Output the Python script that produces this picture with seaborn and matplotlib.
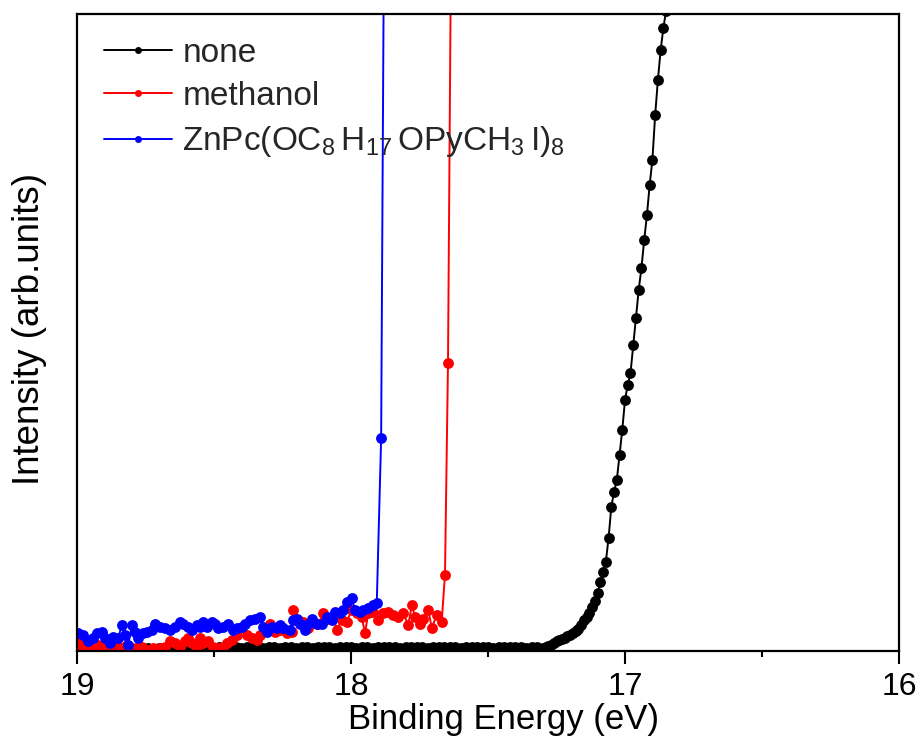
import numpy as np
import pandas as pd
import matplotlib
matplotlib.use("Agg")
import matplotlib.pyplot as plt
from matplotlib.lines import Line2D
from matplotlib.ticker import MultipleLocator
import seaborn as sns

# ---------------- data ----------------
series_names = ["none", "methanol", r"ZnPc(OC$_{8}\,$H$_{17}\,$OPyCH$_{3}\,$I)$_{8}$"]
series_colors = ["#000000", "#FF0000", "#0000FF"]

none_E = [19.00, 18.98, 18.96, 18.94, 18.92, 18.90, 18.88, 18.86, 18.84, 18.82,
          18.80, 18.78, 18.76, 18.74, 18.72, 18.70, 18.68, 18.66, 18.64, 18.62,
          18.60, 18.58, 18.56, 18.54, 18.52, 18.50, 18.48, 18.46, 18.44, 18.42,
          18.40, 18.38, 18.36, 18.34, 18.32, 18.30, 18.28, 18.26, 18.24, 18.22,
          18.20, 18.18, 18.16, 18.14, 18.12, 18.10, 18.08, 18.06, 18.04, 18.02,
          18.00, 17.98, 17.96, 17.94, 17.92, 17.90, 17.88, 17.86, 17.84, 17.82,
          17.80, 17.78, 17.76, 17.74, 17.72, 17.70, 17.68, 17.66, 17.64, 17.62,
          17.60, 17.58, 17.56, 17.54, 17.52, 17.50, 17.48, 17.46, 17.44, 17.42,
          17.40, 17.38, 17.36, 17.34, 17.32, 17.30, 17.29, 17.28, 17.27, 17.26,
          17.25, 17.24, 17.23, 17.22, 17.21, 17.20, 17.19, 17.18, 17.17, 17.16,
          17.15, 17.14, 17.13, 17.12, 17.11, 17.10, 17.09, 17.08, 17.07, 17.06,
          17.05, 17.04, 17.03, 17.02, 17.01, 17.00, 16.99, 16.98, 16.97, 16.96,
          16.95, 16.94, 16.93, 16.92, 16.91, 16.90, 16.89, 16.88, 16.87, 16.86,
          16.85]
none_I = [0.4, 0.3, 0.4, 0.5, 0.3, 0.4, 0.4, 0.3, 0.5, 0.4,
          0.3, 0.4, 0.4, 0.5, 0.3, 0.4, 0.4, 0.3, 0.4, 0.5,
          0.4, 0.4, 0.3, 0.4, 0.5, 0.5, 0.6, 0.5, 0.5, 0.6,
          0.5, 0.7, 0.5, 0.6, 0.5, 0.6, 0.6, 0.5, 0.7, 0.6,
          0.5, 0.6, 0.6, 0.5, 0.6, 0.7, 0.6, 0.5, 0.6, 0.6,
          0.7, 0.5, 0.6, 0.6, 0.5, 0.6, 0.7, 0.6, 0.6, 0.5,
          0.6, 0.6, 0.7, 0.6, 0.5, 0.6, 0.6, 0.7, 0.6, 0.6,
          0.5, 0.6, 0.7, 0.6, 0.6, 0.6, 0.5, 0.6, 0.7, 0.6,
          0.6, 0.6, 0.5, 0.6, 0.6, 0.5, 0.6, 0.8, 1.0, 1.2,
          1.5, 1.7, 1.9, 2.1, 2.3, 2.5, 2.8, 3.1, 3.5, 4.1,
          4.8, 5.4, 6.0, 6.9, 7.9, 9.1, 10.8, 12.4, 14.0, 17.7,
          22.6, 25.0, 26.8, 30.8, 34.7, 39.4, 41.8, 43.6, 48.0, 52.3,
          56.7, 60.1, 64.5, 68.4, 73.2, 77.1, 84.1, 89.6, 94.3, 97.8,
          100.5]

methanol_E = [18.999, 18.989, 18.971, 18.953, 18.934, 18.922, 18.910, 18.892, 18.873, 18.861,
              18.849, 18.831, 18.819, 18.800, 18.782, 18.764, 18.746, 18.722, 18.697, 18.679,
              18.661, 18.642, 18.624, 18.606, 18.594, 18.581, 18.563, 18.551, 18.539, 18.521,
              18.503, 18.484, 18.466, 18.454, 18.435, 18.417, 18.399, 18.381, 18.362, 18.344,
              18.332, 18.314, 18.296, 18.277, 18.259, 18.235, 18.216, 18.211, 18.192, 18.174,
              18.156, 18.138, 18.119, 18.101, 18.083, 18.065, 18.052, 18.034, 18.016, 17.997,
              17.979, 17.961, 17.949, 17.937, 17.919, 17.900, 17.882, 17.864, 17.846, 17.827,
              17.809, 17.791, 17.778, 17.766, 17.748, 17.736, 17.718, 17.705, 17.687, 17.669,
              17.657, 17.646, 17.630]
methanol_I = [0.9, 1.5, 0.7, 0.4, 0.7, 0.9, 0.4, 0.9, 0.2, 1.2,
              0.7, 0.4, 0.9, 0.4, 0.4, 0.7, 0.2, 0.4, 0.4, 0.7,
              1.5, 1.2, 0.7, 1.5, 2.0, 1.2, 0.4, 2.0, 1.2, 1.5,
              0.7, 0.4, 0.7, 1.2, 1.7, 2.5, 3.8, 2.5, 2.0, 1.7,
              2.5, 3.3, 4.3, 3.0, 3.3, 2.8, 3.0, 6.4, 4.9, 4.6,
              3.6, 4.6, 4.3, 5.9, 5.1, 5.4, 3.3, 4.9, 4.6, 6.4,
              5.9, 5.4, 2.8, 5.9, 6.2, 4.9, 5.9, 6.2, 5.7, 5.4,
              5.9, 4.1, 7.2, 5.4, 4.3, 5.1, 6.4, 3.6, 5.7, 4.6,
              12.0, 45.2, 140.0]

znpc_E = [18.995, 18.977, 18.959, 18.941, 18.928, 18.910, 18.898, 18.880, 18.868, 18.849,
          18.837, 18.825, 18.813, 18.800, 18.788, 18.776, 18.758, 18.746, 18.727, 18.715,
          18.697, 18.679, 18.661, 18.642, 18.624, 18.612, 18.594, 18.581, 18.563, 18.551,
          18.539, 18.527, 18.508, 18.496, 18.484, 18.466, 18.448, 18.430, 18.417, 18.399,
          18.387, 18.369, 18.350, 18.332, 18.320, 18.308, 18.289, 18.271, 18.259, 18.247,
          18.223, 18.211, 18.198, 18.186, 18.168, 18.156, 18.144, 18.125, 18.107, 18.089,
          18.070, 18.058, 18.040, 18.028, 18.016, 17.997, 17.985, 17.967, 17.955, 17.937,
          17.919, 17.906, 17.890, 17.878]
znpc_I = [2.8, 2.5, 1.5, 2.0, 2.8, 3.0, 2.0, 1.2, 2.2, 2.0,
          4.1, 2.5, 0.9, 4.1, 3.0, 2.0, 2.8, 3.0, 3.3, 4.3,
          3.8, 3.6, 3.3, 3.8, 4.6, 4.3, 3.8, 3.3, 4.1, 3.8,
          4.6, 3.8, 4.6, 4.3, 3.6, 3.8, 4.3, 3.3, 3.6, 3.8,
          4.3, 4.9, 5.1, 5.4, 3.8, 3.0, 3.8, 3.6, 4.1, 3.6,
          3.3, 4.9, 5.1, 4.3, 3.3, 4.3, 5.1, 4.3, 4.3, 5.4,
          4.9, 6.2, 5.9, 6.4, 7.7, 8.3, 6.4, 6.2, 6.4, 6.7,
          7.2, 7.5, 33.4, 125.0]

x_ticks = [19, 18, 17, 16]

# ---------------- style ----------------
sns.set_style("ticks")
plt.rcParams["font.family"] = ["Liberation Sans", "DejaVu Sans"]
plt.rcParams["mathtext.default"] = "regular"

fig = plt.figure(figsize=(9.24, 7.51), dpi=100)
ax = fig.add_axes([77 / 924, 100 / 751, 822 / 924, 637 / 751])

frames = [
    pd.DataFrame({"E": none_E, "I": none_I, "sample": series_names[0]}),
    pd.DataFrame({"E": methanol_E, "I": methanol_I, "sample": series_names[1]}),
    pd.DataFrame({"E": znpc_E, "I": znpc_I, "sample": series_names[2]}),
]

for df, col in zip(frames, series_colors):
    sns.lineplot(data=df, x="E", y="I", ax=ax, color=col, marker="o",
                 markersize=7.8, markeredgewidth=0, linewidth=1.4,
                 sort=False, estimator=None, legend=False)

ax.set_xlim(19, 16)
ax.set_ylim(0, 100)
ax.set_yticks([])
ax.set_xticks(x_ticks)
ax.set_xticklabels([str(t) for t in x_ticks])
ax.xaxis.set_minor_locator(MultipleLocator(0.5))
ax.tick_params(axis="x", which="major", direction="out", length=9, width=1.5,
               labelsize=23, pad=6, color="black", labelcolor="black")
ax.tick_params(axis="x", which="minor", direction="out", length=4.5, width=1.5,
               color="black")
for sp in ax.spines.values():
    sp.set_visible(True)
    sp.set_linewidth(1.6)
    sp.set_color("black")

ax.set_xlabel("Binding Energy (eV)", fontsize=25, color="black")
ax.set_ylabel("Intensity (arb.units)", fontsize=26.5, color="black")
ax.xaxis.set_label_coords(0.519, -0.082)
ax.yaxis.set_label_coords(-0.036, 0.506)

handles = [Line2D([], [], color=c, marker="o", markersize=5,
                  markeredgewidth=0, linewidth=1.4) for c in series_colors]
ax.legend(handles, series_names, loc="upper left", bbox_to_anchor=(0.033, 0.963),
          frameon=False, fontsize=24, handlelength=2.05, handletextpad=0.3,
          labelspacing=0.37, borderpad=0, borderaxespad=0)

fig.savefig("out.png", dpi=100)
